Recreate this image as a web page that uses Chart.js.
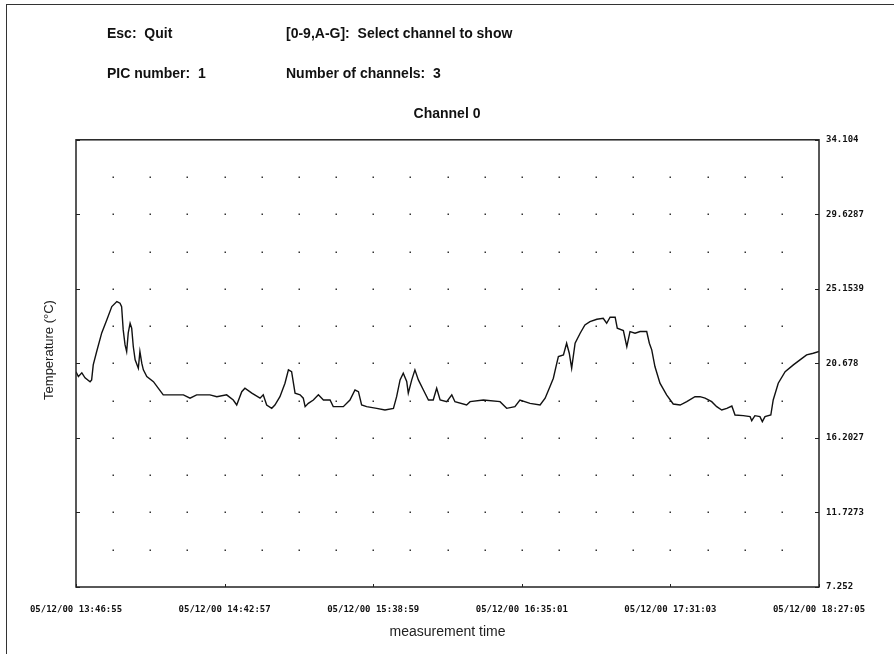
<!DOCTYPE html>
<html>
<head>
<meta charset="utf-8">
<script src="https://cdn.jsdelivr.net/npm/chart.js@4"></script>
<style>
  body { margin: 0; background: #fff; }
  #wrap { position: relative; width: 894px; height: 654px; }
  #frame { position: absolute; left: 6px; top: 4px; right: 0; bottom: 0;
           border-left: 1.5px solid #333; border-top: 1.5px solid #333; }
  .hdr { position: absolute; font: bold 14px "Liberation Sans", Arial, sans-serif;
         color: #111; line-height: 16px; white-space: nowrap; }
</style>
</head>
<body>
<div id="wrap">
  <canvas id="myChart" width="894" height="654"></canvas>
  <div id="frame"></div>
  <div class="hdr" style="left:107px;top:25px">Esc:&nbsp; Quit</div>
  <div class="hdr" style="left:286px;top:25px">[0-9,A-G]:&nbsp; Select channel to show</div>
  <div class="hdr" style="left:107px;top:65px">PIC number:&nbsp; 1</div>
  <div class="hdr" style="left:286px;top:65px">Number of channels:&nbsp; 3</div>
</div>
<script>
// minutes after 05/12/00 13:46:55
const times = [0, 0.9, 2.2, 3.4, 5.3, 5.9, 6.5, 7.8, 9.7, 11.6,
    13.5, 15.4, 16.6, 17.2, 17.8, 18.5, 19.1, 19.7, 20.4, 21.0,
    21.6, 22.3, 23.5, 24.1, 24.8, 25.4, 26.7, 29.2, 31.0, 32.9,
    35.5, 40.5, 43.0, 45.5, 50.5, 53.1, 56.8, 59.3, 60.6, 62.5,
    63.7, 66.3, 69.4, 70.6, 71.9, 73.8, 75.0, 76.9, 78.8, 80.1,
    81.3, 82.6, 84.5, 85.7, 86.4, 87.6, 89.5, 91.4, 93.3, 95.8,
    97.0, 100.8, 103.3, 105.2, 106.5, 107.7, 109.6, 113.4, 116.5, 119.7,
    120.9, 122.2, 123.4, 124.7, 125.3, 126.6, 127.8, 129.1, 131.0, 132.9,
    134.7, 136.0, 137.3, 139.8, 141.7, 142.9, 147.3, 148.6, 153.6, 159.9,
    162.4, 165.5, 167.4, 171.2, 175.0, 176.9, 178.7, 180.0, 181.3, 181.9,
    183.8, 185.0, 186.0, 186.9, 188.2, 190.1, 191.9, 193.8, 196.4, 198.8,
    200.1, 201.4, 203.3, 204.1, 206.4, 207.7, 208.9, 210.8, 212.7, 215.2,
    216.2, 217.1, 218.3, 220.2, 222.7, 225.2, 227.8, 230.3, 233.4, 235.3,
    237.2, 239.7, 241.6, 243.5, 245.4, 247.3, 248.5, 251.6, 254.2, 254.8,
    256.0, 257.9, 258.8, 259.8, 262.0, 262.9, 264.8, 267.4, 270.5, 273.0,
    275.5, 278.0, 280.2];

const temps = [20.18, 19.89, 20.11, 19.81, 19.58, 19.69, 20.59, 21.39, 22.51, 23.29,
    24.09, 24.39, 24.29, 24.09, 22.69, 21.79, 21.39, 22.51, 23.09, 22.79,
    21.69, 20.89, 20.39, 21.39, 20.69, 20.29, 19.89, 19.58, 19.19, 18.79,
    18.79, 18.79, 18.59, 18.79, 18.79, 18.68, 18.79, 18.48, 18.18, 18.98,
    19.19, 18.89, 18.59, 18.79, 18.18, 17.98, 18.18, 18.68, 19.49, 20.29,
    20.18, 18.89, 18.79, 18.59, 18.08, 18.28, 18.48, 18.79, 18.48, 18.48,
    18.08, 18.08, 18.48, 19.08, 18.98, 18.18, 18.08, 17.98, 17.88, 17.98,
    18.68, 19.69, 20.09, 19.59, 18.89, 19.69, 20.29, 19.69, 19.08, 18.48,
    18.48, 19.19, 18.48, 18.38, 18.79, 18.38, 18.18, 18.38, 18.48, 18.38,
    17.98, 18.08, 18.48, 18.28, 18.18, 18.59, 19.28, 19.79, 20.69, 21.09,
    21.19, 21.89, 21.29, 20.39, 21.89, 22.49, 22.99, 23.19, 23.33, 23.39,
    23.09, 23.45, 23.45, 22.79, 22.65, 21.69, 22.59, 22.49, 22.59, 22.59,
    21.89, 21.49, 20.49, 19.49, 18.79, 18.24, 18.18, 18.38, 18.68, 18.68,
    18.59, 18.38, 18.08, 17.88, 17.98, 18.12, 17.58, 17.54, 17.48, 17.24,
    17.54, 17.48, 17.18, 17.48, 17.58, 18.48, 19.49, 20.18, 20.59, 20.89,
    21.19, 21.29, 21.39];

const xTickMinutes = [0, 56.033, 112.067, 168.1, 224.133, 280.167];
const xTickLabels = ['05/12/00 13:46:55', '05/12/00 14:42:57', '05/12/00 15:38:59',
    '05/12/00 16:35:01', '05/12/00 17:31:03', '05/12/00 18:27:05'];

const yTickValues = [7.252, 11.7273, 16.2027, 20.678, 25.1539, 29.6287, 34.104];
const yTickLabels = ['7.252', '11.7273', '16.2027', '20.678', '25.1539', '29.6287', '34.104'];

const tickFont = { family: 'DejaVu Sans Mono', size: 9, weight: 'bold' };
const textFont = { family: 'Liberation Sans', size: 13 };

// dotted grid, frame, inward ticks and the left axis title
const framePlugin = {
    id: 'frame',
    beforeDatasetsDraw(chart) {
        const { ctx, scales } = chart;
        const xs = scales.x, ys = scales.y;
        ctx.save();
        ctx.fillStyle = '#333';
        for (let i = 1; i < 20; i++) {
            const px = xs.getPixelForValue(xs.min + (xs.max - xs.min) * i / 20);
            for (let j = 1; j < 12; j++) {
                const py = ys.getPixelForValue(ys.min + (ys.max - ys.min) * j / 12);
                ctx.fillRect(Math.round(px) - 0.5, Math.round(py) - 0.5, 1.5, 1.5);
            }
        }
        ctx.restore();
    },
    afterDatasetsDraw(chart) {
        const { ctx, chartArea: a, scales } = chart;
        ctx.save();
        ctx.strokeStyle = '#222';
        ctx.lineWidth = 1.5;
        ctx.strokeRect(a.left, a.top, a.right - a.left, a.bottom - a.top);
        ctx.lineWidth = 1;
        ctx.beginPath();
        yTickValues.forEach(v => {
            const py = Math.round(scales.y.getPixelForValue(v)) + 0.5;
            ctx.moveTo(a.left, py); ctx.lineTo(a.left + 4, py);
            ctx.moveTo(a.right, py); ctx.lineTo(a.right - 4, py);
        });
        xTickMinutes.forEach(v => {
            const px = Math.round(scales.x.getPixelForValue(v)) + 0.5;
            ctx.moveTo(px, a.bottom); ctx.lineTo(px, a.bottom - 3);
        });
        ctx.stroke();

        ctx.translate(49, 350);
        ctx.rotate(-Math.PI / 2);
        ctx.fillStyle = '#222';
        ctx.font = '13px "Liberation Sans", Arial, sans-serif';
        ctx.textAlign = 'center';
        ctx.textBaseline = 'middle';
        ctx.fillText('Temperature (°C)', 0, 0);
        ctx.restore();
    }
};

const ctx = document.getElementById('myChart').getContext('2d');
const chart = new Chart(ctx, {
    type: 'line',
    data: {
        datasets: [{
            data: times.map((t, i) => ({ x: t, y: temps[i] })),
            borderColor: '#111',
            borderWidth: 1.4,
            pointRadius: 0,
            tension: 0,
            fill: false,
            yAxisID: 'y'
        }]
    },
    options: {
        responsive: false,
        animation: false,
        layout: { padding: { top: 106, left: 0, right: 0, bottom: 0 } },
        plugins: {
            legend: { display: false },
            tooltip: { enabled: false },
            title: {
                display: true,
                text: 'Channel 0',
                color: '#111',
                font: { family: 'Liberation Sans', size: 14, weight: 'bold' },
                padding: { top: 0, bottom: 17 }
            }
        },
        scales: {
            x: {
                type: 'linear',
                min: 0,
                max: 280.167,
                grid: { display: false, drawTicks: false },
                border: { display: false },
                afterBuildTicks: s => { s.ticks = xTickMinutes.map(v => ({ value: v })); },
                afterFit: s => { s.height = 67; },
                ticks: {
                    autoSkip: false,
                    maxRotation: 0,
                    padding: 17,
                    color: '#111',
                    font: tickFont,
                    callback: (v, i) => xTickLabels[i]
                },
                title: {
                    display: true,
                    text: 'measurement time',
                    color: '#222',
                    font: { family: 'Liberation Sans', size: 14 },
                    padding: { top: 0, bottom: 13 }
                }
            },
            y: {
                position: 'right',
                min: 7.252,
                max: 34.104,
                grid: { display: false, drawTicks: false },
                border: { display: false },
                afterBuildTicks: s => { s.ticks = yTickValues.map(v => ({ value: v })); },
                afterFit: s => { s.width = 75; },
                ticks: {
                    autoSkip: false,
                    padding: 7,
                    color: '#111',
                    font: tickFont,
                    callback: (v, i) => yTickLabels[i]
                }
            },
            yL: {
                position: 'left',
                min: 7.252,
                max: 34.104,
                grid: { display: false, drawTicks: false },
                border: { display: false },
                ticks: { display: false },
                afterFit: s => { s.width = 76; }
            }
        }
    },
    plugins: [framePlugin]
});
</script>
</body>
</html>
